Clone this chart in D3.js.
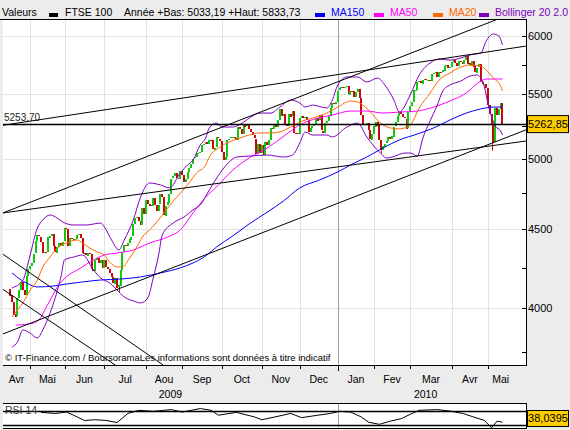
<!DOCTYPE html>
<html>
<head>
<meta charset="utf-8">
<script src="https://cdn.jsdelivr.net/npm/d3@7"></script>
<style>
  body { margin: 0; background: #ececec; }
  svg { display: block; font-family: "Liberation Sans", Arial, sans-serif; }
</style>
</head>
<body>
<svg id="chart" width="570" height="430"></svg>
<script>
// ---- data ----
const holidays = ["2009-05-04", "2009-05-25", "2009-08-31", "2009-12-25", "2009-12-28",
                  "2010-01-01", "2010-04-02", "2010-04-05", "2010-05-03"];
const firstDay = "2009-04-16", lastDay = "2010-05-14";

const firstOpen = 4120;
const closeApr09 = [4080, 4040, 3965, 3950, 4060, 4110, 4160, 4110, 4080, 4200, 4243];
const closeMay09 = [4260, 4280, 4340, 4420, 4460, 4452, 4416, 4342, 4350, 4348, 4446, 4456, 4469, 4387, 4345, 4385, 4408, 4392, 4418];
const closeJun09 = [4506, 4500, 4390, 4440, 4438, 4435, 4436, 4461, 4468, 4442, 4346, 4343, 4327, 4345, 4339, 4244, 4230, 4300, 4310, 4280, 4300, 4249];
const closeJul09 = [4300, 4254, 4240, 4216, 4189, 4150, 4186, 4127, 4139, 4236, 4353, 4398, 4389, 4406, 4433, 4452, 4534, 4577, 4586, 4558, 4529, 4648, 4608];
const closeAug09 = [4703, 4676, 4665, 4660, 4717, 4669, 4625, 4667, 4740, 4722, 4595, 4661, 4685, 4746, 4851, 4869, 4894, 4855, 4847, 4908];
const closeSep09 = [4880, 4830, 4850, 4900, 4930, 4960, 5000, 5010, 5040, 5042, 5050, 5103, 5110, 5128, 5109, 5141, 5139, 5067, 5082, 5159, 5150, 5134];
const closeOct09 = [5047, 4988, 5010, 5140, 5150, 5161, 5162, 5157, 5143, 5242, 5227, 5190, 5259, 5246, 5257, 5222, 5200, 5175, 5151, 5036, 5109, 5044];
const closeNov09 = [5104, 5026, 5125, 5105, 5142, 5235, 5231, 5267, 5240, 5296, 5382, 5323, 5342, 5259, 5251, 5344, 5323, 5364, 5195, 5194, 5190];
const closeDec09 = [5312, 5327, 5314, 5322, 5296, 5202, 5230, 5245, 5261, 5311, 5289, 5331, 5211, 5196, 5271, 5286, 5326, 5390, 5430, 5425, 5440];
const closeJan10 = [5530, 5550, 5560, 5555, 5565, 5570, 5500, 5530, 5528, 5480, 5520, 5545, 5470, 5336, 5260, 5260, 5275, 5217, 5145, 5188];
const closeFeb10 = [5247, 5283, 5253, 5139, 5060, 5092, 5112, 5131, 5161, 5142, 5167, 5243, 5277, 5325, 5358, 5341, 5316, 5306, 5229, 5355];
const closeMar10 = [5405, 5438, 5534, 5534, 5600, 5610, 5590, 5620, 5630, 5620, 5620, 5610, 5670, 5680, 5690, 5650, 5690, 5680, 5700, 5740, 5745, 5720, 5730];
const closeApr10 = [5770, 5790, 5760, 5735, 5780, 5775, 5755, 5790, 5825, 5760, 5740, 5785, 5735, 5680, 5725, 5753, 5603, 5586, 5586, 5553];
const closeMay10 = [5411, 5342, 5261, 5123, 5387, 5334, 5383, 5433, 5262.85];

// notable intraday lows [date, low]
const wickLows = [["2009-07-13", 4100], ["2010-02-05", 5040], ["2010-05-06", 5060]];

// indicators, [session number, value]
const ma150 = [[1,4217],[6,4173],[9,4154],[15,4130],[24,4136],[31,4148],[40,4161],[50,4173],[61,4179],[72,4192],[83,4217],[94,4249],[101,4280],[108,4325],[114,4383],[123,4456],[132,4536],[142,4616],[151,4694],[160,4786],[171,4843],[181,4901],[188,4952],[197,5011],[206,5079],[215,5140],[225,5186],[234,5233],[243,5295],[252,5350],[260,5383],[267,5398],[272,5398]];
const ma50 = [[3,3902],[13,3914],[17,3949],[20,4009],[23,4069],[26,4130],[31,4192],[39,4249],[46,4299],[52,4331],[59,4344],[68,4364],[77,4409],[87,4449],[94,4496],[101,4611],[108,4721],[114,4793],[123,4915],[132,5004],[142,5079],[152,5178],[160,5256],[170,5310],[178,5334],[188,5366],[197,5366],[206,5350],[215,5358],[225,5366],[234,5398],[243,5447],[252,5512],[260,5611],[263,5628],[272,5628]];
const ma20 = [[1,3949],[4,3991],[7,4033],[11,4111],[15,4173],[18,4255],[22,4318],[26,4376],[31,4409],[37,4429],[40,4409],[44,4376],[48,4351],[52,4331],[55,4286],[59,4255],[62,4255],[66,4312],[70,4383],[73,4449],[77,4496],[81,4549],[87,4645],[92,4721],[98,4807],[103,4894],[108,4952],[110,5011],[116,5086],[121,5125],[127,5155],[132,5178],[138,5194],[144,5194],[149,5202],[155,5240],[160,5279],[167,5310],[175,5350],[181,5398],[188,5447],[193,5431],[199,5358],[204,5279],[210,5233],[215,5225],[221,5256],[226,5391],[232,5512],[237,5620],[243,5679],[249,5729],[254,5746],[260,5738],[263,5704],[267,5636],[271,5570],[272,5528]];
const bollUp = [[1,4124],[7,4173],[11,4331],[15,4509],[18,4563],[22,4597],[25,4583],[29,4549],[35,4529],[42,4529],[50,4542],[52,4516],[56,4429],[60,4364],[63,4429],[68,4563],[72,4721],[77,4821],[83,4807],[88,4786],[94,4894],[98,4952],[101,4989],[105,5102],[108,5155],[110,5233],[114,5271],[117,5240],[123,5240],[129,5279],[133,5319],[138,5350],[144,5350],[149,5398],[155,5455],[160,5431],[163,5398],[167,5414],[175,5391],[178,5455],[181,5578],[186,5645],[192,5645],[197,5603],[203,5636],[207,5578],[212,5455],[215,5358],[221,5496],[226,5662],[232,5764],[237,5798],[243,5789],[249,5807],[254,5833],[260,5850],[263,5956],[267,6018],[270,6000],[272,5920]];
const bollDn = [[1,3777],[4,3805],[7,3874],[11,3856],[15,3828],[18,3874],[22,3973],[25,4069],[28,4192],[30,4300],[35,4318],[40,4331],[46,4236],[50,4185],[55,4154],[59,4111],[63,4069],[68,4045],[72,4033],[76,4063],[79,4185],[82,4331],[84,4462],[90,4542],[96,4583],[101,4632],[105,4666],[110,4771],[116,4894],[121,4974],[125,5011],[133,5019],[142,5026],[151,5011],[156,5026],[160,5117],[163,5201],[167,5178],[175,5178],[178,5163],[186,5240],[192,5271],[197,5163],[204,5049],[208,5004],[211,5011],[218,5041],[221,5041],[225,5019],[228,5155],[232,5287],[236,5414],[239,5528],[243,5578],[249,5611],[254,5653],[258,5662],[261,5611],[265,5367],[268,5248],[271,5209],[272,5178]];
const rsi14 = [[17,66],[25,63],[31,67],[35,58],[41,43],[47,45],[53,43],[59,37],[65,63],[71,72],[79,69],[89,74],[95,67],[105,77],[111,72],[115,58],[125,66],[135,53],[139,45],[148,55],[155,63],[161,51],[170,58],[177,63],[182,69],[188,67],[194,53],[198,38],[204,32],[210,41],[216,48],[222,63],[226,72],[236,74],[244,69],[250,63],[256,53],[262,43],[266,22],[269,41],[272,38]];
const rsiLast = "38,0395";

// hand-drawn trend lines, two anchors each: [session, price]
const trendLines = [
  [[-4, 5253.7], [285, 5911]],
  [[-4, 4611], [285, 6255]],
  [[-4, 4611], [285, 5132]],
  [[-4, 3851], [285, 5218]],
  [[-4, 4336], [84.5, 3677]],
  [[-4, 4115], [58, 3677]]
];
const lastPrice = 5262.85, lastPriceText = "5262,85";
const lineLabel = "5253,70";

const majorTicks = [4000, 4500, 5000, 5500, 6000];
const minorTicks = [3750, 4250, 4750, 5250, 5750];
const monthNames = ["Jan", "Fev", "Mar", "Avr", "Mai", "Jun", "Jul", "Aou", "Sep", "Oct", "Nov", "Dec"];

const headerParts = ["Valeurs", "FTSE 100", "Année +Bas: 5033,19 +Haut: 5833,73"];
const legendNames = ["MA150", "MA50", "MA20", "Bollinger 20 2.0"];
const footer = "\u00a9 IT-Finance.com / BoursoramaLes informations sont données à titre indicatif";

// ---- styles / layout ----
const colors = { MA150: "#0000ff", MA50: "#ff00ff", MA20: "#ff6600", Bollinger: "#8000c0",
                 up: "#10c810", down: "#c80a0a", grid: "#e2e2e2", year: "#a0a0a0", gold: "#ffcc00" };
const plot = { left: 3, right: 526, top: 19, bottom: 365 };
const rsiBox = { top: 403, bottom: 428 };

const fmt = d3.timeFormat("%Y-%m-%d");
const parse = d3.timeParse("%Y-%m-%d");
const sessions = d3.timeDay.range(parse(firstDay), d3.timeDay.offset(parse(lastDay), 1))
  .filter(d => d.getDay() % 6 !== 0 && !holidays.includes(fmt(d)));
const closes = [].concat(closeApr09, closeMay09, closeJun09, closeJul09, closeAug09, closeSep09,
  closeOct09, closeNov09, closeDec09, closeJan10, closeFeb10, closeMar10, closeApr10, closeMay10);
if (closes.length !== sessions.length) console.error("length mismatch", closes.length, sessions.length);

const candles = closes.map((c, i) => ({ i, open: i === 0 ? firstOpen : closes[i - 1], close: c }));
const sessionOf = s => sessions.findIndex(d => fmt(d) === s);

const x = d3.scaleLinear().domain([-4, 285]).range([plot.left, plot.right]);
const y = d3.scaleLog().domain([3677, 6154]).range([plot.bottom, plot.top]);
const yR = d3.scaleLinear().domain([0, 100]).range([435.5, 400.5]);

const svg = d3.select("#chart");
const px = v => Math.round(v) + 0.5;

svg.append("rect").attr("width", 570).attr("height", 430).attr("fill", "#ececec");
svg.append("rect").attr("x", plot.left).attr("y", plot.top)
  .attr("width", plot.right - plot.left).attr("height", plot.bottom - plot.top).attr("fill", "#fff");

svg.append("clipPath").attr("id", "clip").append("rect")
  .attr("x", plot.left).attr("y", plot.top)
  .attr("width", plot.right - plot.left).attr("height", plot.bottom - plot.top);

// month starts
const monthStarts = [];
sessions.forEach((d, i) => {
  if (i > 0 && d.getMonth() !== sessions[i - 1].getMonth()) monthStarts.push({ i, d });
});

const g = svg.append("g").attr("clip-path", "url(#clip)");

// grid
g.selectAll(".hgrid").data(majorTicks).enter().append("line")
  .attr("x1", plot.left).attr("x2", plot.right)
  .attr("y1", d => px(y(d))).attr("y2", d => px(y(d)))
  .attr("stroke", colors.grid);
g.selectAll(".vgrid").data(monthStarts).enter().append("line")
  .attr("x1", d => px(x(d.i))).attr("x2", d => px(x(d.i)))
  .attr("y1", plot.top).attr("y2", plot.bottom)
  .attr("stroke", d => d.d.getMonth() === 0 ? colors.year : colors.grid);

// footer
svg.append("text").attr("x", 5).attr("y", 361).attr("font-size", 9.5).text(footer);

// candles
const bodyTop = d => y(Math.max(d.open, d.close));
g.selectAll(".wick").data(wickLows).enter().append("line")
  .attr("x1", d => px(x(sessionOf(d[0])))).attr("x2", d => px(x(sessionOf(d[0]))))
  .attr("y1", d => y(closes[sessionOf(d[0])]))
  .attr("y2", d => y(d[1]))
  .attr("stroke", colors.down);
g.selectAll(".candle").data(candles).enter().append("rect")
  .attr("x", d => Math.round(x(d.i)) - 1)
  .attr("width", 2)
  .attr("y", d => Math.round(bodyTop(d)))
  .attr("height", d => Math.max(1, Math.round(y(Math.min(d.open, d.close)) - bodyTop(d))))
  .attr("fill", d => d.close >= d.open ? colors.up : colors.down);

// indicators
const line = d3.line().x(d => x(d[0])).y(d => y(d[1])).curve(d3.curveMonotoneX);
[[ma150, colors.MA150], [ma50, colors.MA50], [ma20, colors.MA20], [bollUp, colors.Bollinger], [bollDn, colors.Bollinger]]
  .forEach(([data, c]) => {
    g.append("path").datum(data).attr("d", line).attr("fill", "none")
      .attr("stroke", c).attr("stroke-width", 1);
  });

// trend lines
g.selectAll(".trend").data(trendLines).enter().append("line")
  .attr("x1", d => x(d[0][0])).attr("y1", d => y(d[0][1]))
  .attr("x2", d => x(d[1][0])).attr("y2", d => y(d[1][1]))
  .attr("stroke", "#000").attr("stroke-width", 1);

// last price line
g.append("line").attr("x1", plot.left).attr("x2", plot.right)
  .attr("y1", px(y(lastPrice))).attr("y2", px(y(lastPrice)))
  .attr("stroke", "#000").attr("stroke-width", 1.5);
svg.append("text").attr("x", 4).attr("y", y(5253.7) - 4).attr("font-size", 10)
  .attr("fill", "#222").text(lineLabel);

// borders
svg.append("line").attr("x1", 0).attr("x2", plot.right + 1).attr("y1", plot.top + 0.5).attr("y2", plot.top + 0.5).attr("stroke", "#000");
svg.append("line").attr("x1", plot.left).attr("x2", plot.right + 1).attr("y1", plot.bottom + 0.5).attr("y2", plot.bottom + 0.5).attr("stroke", "#000");
svg.append("line").attr("x1", plot.right + 0.5).attr("x2", plot.right + 0.5).attr("y1", plot.top).attr("y2", plot.bottom + 1).attr("stroke", "#000");

// right axis
svg.selectAll(".ytick").data(majorTicks.concat(minorTicks)).enter().append("line")
  .attr("x1", plot.right - 4).attr("x2", plot.right)
  .attr("y1", d => px(y(d))).attr("y2", d => px(y(d)))
  .attr("stroke", "#000");
svg.selectAll(".ylab").data(majorTicks).enter().append("text")
  .attr("x", plot.right + 2).attr("y", d => y(d) + 4).attr("font-size", 11)
  .text(d => d);

svg.append("rect").attr("x", 527.5).attr("y", y(lastPrice) - 8.5).attr("width", 41).attr("height", 17)
  .attr("fill", colors.gold).attr("stroke", "#000");
svg.append("text").attr("x", 548).attr("y", y(lastPrice) + 4).attr("font-size", 11)
  .attr("text-anchor", "middle").text(lastPriceText);

// x axis
svg.selectAll(".xtick").data(monthStarts).enter().append("line")
  .attr("x1", d => px(x(d.i))).attr("x2", d => px(x(d.i)))
  .attr("y1", plot.bottom).attr("y2", d => d.d.getMonth() === 0 ? plot.bottom + 6 : plot.bottom + 4)
  .attr("stroke", "#000");
const axisEnd = x(sessions.length + 5);
const bounds = [plot.left].concat(monthStarts.map(d => x(d.i)), [axisEnd]);
const monthLabels = [sessions[0]].concat(monthStarts.map(d => d.d)).map((d, k) => ({
  name: monthNames[d.getMonth()], cx: (bounds[k] + bounds[k + 1]) / 2 }));
svg.selectAll(".mlab").data(monthLabels).enter().append("text")
  .attr("x", d => d.cx).attr("y", 383).attr("text-anchor", "middle").attr("font-size", 10.5)
  .text(d => d.name);
const jan = monthStarts.find(d => d.d.getMonth() === 0);
[[plot.left, x(jan.i), "2009"], [x(jan.i), axisEnd, "2010"]].forEach(([a, b, t]) => {
  svg.append("text").attr("x", (a + b) / 2).attr("y", 398).attr("text-anchor", "middle")
    .attr("font-size", 10.5).text(t);
});

// header
svg.append("text").attr("x", 2).attr("y", 16).attr("font-size", 10.5).text(headerParts[0]);
svg.append("rect").attr("x", 49).attr("y", 13).attr("width", 9).attr("height", 4).attr("fill", "#000");
svg.append("text").attr("x", 65).attr("y", 16).attr("font-size", 10.5).text(headerParts[1]);
svg.append("text").attr("x", 124).attr("y", 16).attr("font-size", 10.5).text(headerParts[2]);
const legendX = [315, 374, 433, 479];
const legendColors = [colors.MA150, colors.MA50, colors.MA20, colors.Bollinger];
legendNames.forEach((n, k) => {
  svg.append("rect").attr("x", legendX[k]).attr("y", 13).attr("width", 10).attr("height", 4).attr("fill", legendColors[k]);
  svg.append("text").attr("x", legendX[k] + 16).attr("y", 16).attr("font-size", 10.5)
    .attr("fill", legendColors[k]).text(n);
});

// RSI panel
svg.append("rect").attr("x", plot.left).attr("y", rsiBox.top).attr("width", plot.right - plot.left)
  .attr("height", rsiBox.bottom - rsiBox.top).attr("fill", "#fff");
svg.append("line").attr("x1", px(x(jan.i))).attr("x2", px(x(jan.i))).attr("y1", rsiBox.top).attr("y2", rsiBox.bottom)
  .attr("stroke", colors.year);
[70, 30].forEach(v => svg.append("line").attr("x1", plot.left).attr("x2", plot.right)
  .attr("y1", px(yR(v))).attr("y2", px(yR(v))).attr("stroke", "#000").attr("stroke-width", 1.5));
svg.append("path").datum(rsi14)
  .attr("d", d3.line().x(d => x(d[0])).y(d => yR(d[1])))
  .attr("fill", "none").attr("stroke", "#000");
svg.append("text").attr("x", 5).attr("y", 414).attr("font-size", 10.5).attr("fill", "#333").text("RSI 14");
svg.append("line").attr("x1", plot.left).attr("x2", plot.right + 1).attr("y1", rsiBox.top + 0.5).attr("y2", rsiBox.top + 0.5).attr("stroke", "#000");
svg.append("line").attr("x1", plot.left).attr("x2", plot.right + 1).attr("y1", rsiBox.bottom + 0.5).attr("y2", rsiBox.bottom + 0.5).attr("stroke", "#000");
svg.append("line").attr("x1", plot.right + 0.5).attr("x2", plot.right + 0.5).attr("y1", rsiBox.top).attr("y2", rsiBox.bottom).attr("stroke", "#000");
svg.append("rect").attr("x", 527.5).attr("y", 410.5).attr("width", 41).attr("height", 16)
  .attr("fill", colors.gold).attr("stroke", "#000");
svg.append("text").attr("x", 548).attr("y", 422).attr("font-size", 11)
  .attr("text-anchor", "middle").text(rsiLast);
</script>
</body>
</html>
